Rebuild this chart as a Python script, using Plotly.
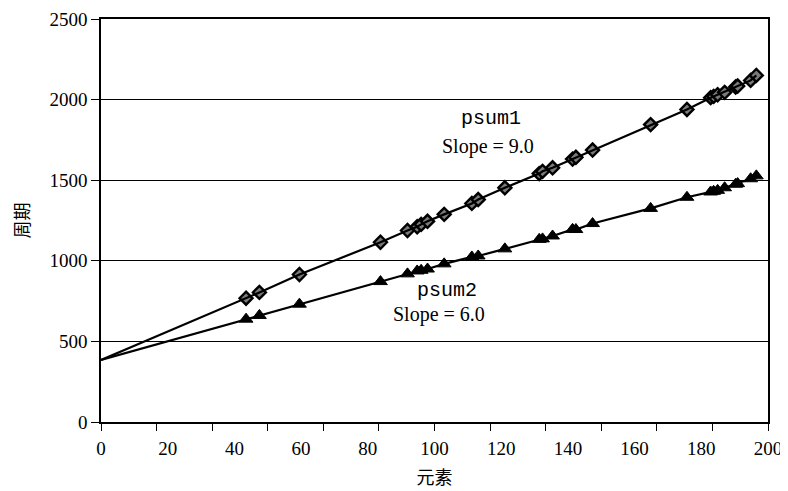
import plotly.graph_objects as go

# Data
elements = [43.5, 47.5, 59.5, 83.8, 91.9, 94.8, 96.0, 97.9, 102.9, 111.2,
            113.1, 121.1, 131.4, 132.4, 135.4, 141.4, 142.4, 147.4, 164.8, 175.7,
            182.8, 183.7, 184.9, 187.0, 190.3, 190.9, 194.8, 196.5]
psum1_cycles = [768, 804, 915, 1115, 1188, 1211, 1226, 1245, 1288, 1356,
                1380, 1453, 1541, 1555, 1577, 1631, 1642, 1687, 1845, 1939,
                2012, 2020, 2030, 2045, 2078, 2084, 2119, 2150]
psum2_cycles = [638, 661, 731, 871, 919, 937, 941, 949, 981, 1024,
                1030, 1074, 1133, 1136, 1154, 1195, 1194, 1231, 1325, 1394,
                1427, 1431, 1437, 1453, 1475, 1479, 1509, 1527]
start_x = 0
start_cycles = 385  # both fitted lines start here at 0 elements

x_ticks = [0, 20, 40, 60, 80, 100, 120, 140, 160, 180, 200]
y_ticks = [0, 500, 1000, 1500, 2000, 2500]

labels = [
    ("psum1", 117.0, 1880, "Slope = 9.0", 116.0, 1712),
    ("psum2", 103.7, 815, "Slope = 6.0", 101.3, 668),
]

SERIF = "Liberation Serif, DejaVu Serif, serif"
MONO = "Liberation Mono, Courier New, monospace"

fig = go.Figure()

for ys, sym, name in [(psum1_cycles, "diamond", "psum1"),
                      (psum2_cycles, "triangle-up", "psum2")]:
    fig.add_trace(go.Scatter(
        x=[start_x] + elements, y=[start_cycles] + ys, mode="lines", xaxis="x2",
        line=dict(color="black", width=2.2), showlegend=False, hoverinfo="skip"))
    if sym == "diamond":
        mk = dict(symbol=sym, size=10, color="#7a7a7a", line=dict(color="black", width=2.4))
    else:
        mk = dict(symbol=sym, size=12, color="black", line=dict(color="black", width=1))
    fig.add_trace(go.Scatter(x=elements, y=ys, mode="markers", name=name,
                             showlegend=False, marker=mk))

for name, nx, ny, slope, sx, sy in labels:
    fig.add_annotation(x=nx, y=ny, text=name, showarrow=False,
                       font=dict(family=MONO, size=20, color="black"))
    fig.add_annotation(x=sx, y=sy, text=slope, showarrow=False,
                       font=dict(family=SERIF, size=20, color="black"))

# The html page has an 8px body margin, so the figure is 8px smaller than the window
fig.update_layout(
    width=780, height=483,
    margin=dict(l=93, r=20, t=11, b=69),
    paper_bgcolor="white", plot_bgcolor="white",
    font=dict(family=SERIF, size=19, color="black"),
    xaxis=dict(
        range=[0, 200], tickvals=x_ticks, ticks="", showgrid=False, zeroline=False,
        showline=True, linecolor="black", linewidth=1.5, mirror=True, automargin=False,
        tickfont=dict(family=SERIF, size=19), ticklabelstandoff=8,
        title=dict(text="元素", font=dict(family="Noto Sans CJK SC", size=18), standoff=14),
    ),
    xaxis2=dict(
        overlaying="x", anchor="y", side="bottom", range=[0, 200], automargin=False,
        tickvals=[200 * i / 12 for i in range(13)], ticks="outside", ticklen=8,
        tickwidth=1.3, tickcolor="black", showticklabels=False,
        showgrid=False, zeroline=False, showline=False,
    ),
    yaxis=dict(
        range=[0, 2500], tickvals=y_ticks, ticks="outside", ticklen=8, tickwidth=1.3,
        tickcolor="black", showgrid=True, gridcolor="black", gridwidth=1.2, automargin=False,
        zeroline=False, showline=True, linecolor="black", linewidth=1.5, mirror=True,
        tickfont=dict(family=SERIF, size=19),
        title=dict(text="周期", font=dict(family="Noto Sans CJK SC", size=18), standoff=28),
    ),
)

fig.write_html("out.html")
